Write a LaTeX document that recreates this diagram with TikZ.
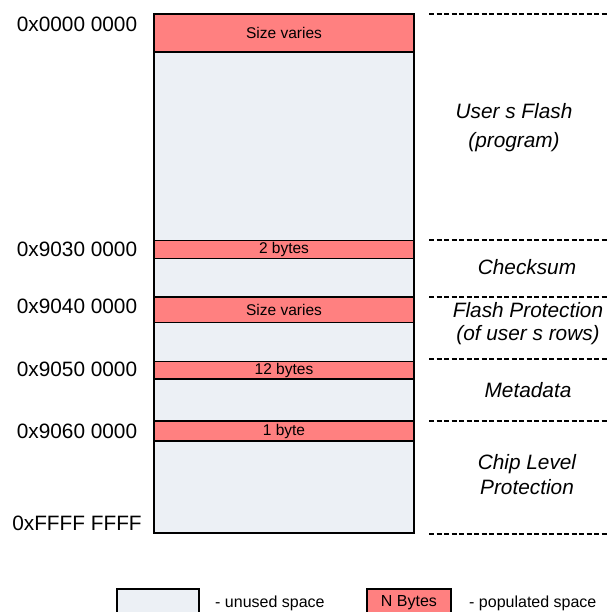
\documentclass[tikz,border=0pt]{standalone}
\usepackage{fontspec}
\setmainfont{Liberation Sans}
\definecolor{pinkfill}{RGB}{255,128,128}
\definecolor{unusedfill}{RGB}{236,240,245}
\begin{document}
\begin{tikzpicture}[x=1pt,y=-1pt,
  membox/.style={fill=unusedfill,minimum width=260pt,inner sep=0pt,outer sep=0pt},
  popbar/.style={draw=black,line width=1.6pt,fill=pinkfill,minimum width=260pt,inner sep=0pt,outer sep=0pt,font=\fontsize{15.5}{18}\selectfont},
  addr/.style={font=\fontsize{20.8}{25}\selectfont,inner sep=0pt},
  region/.style={align=center,inner sep=0pt},
  sep/.style={line width=1.7pt,dash pattern=on 5pt off 2.5pt},
  legbox/.style={draw=black,line width=2.5pt,minimum width=82pt,minimum height=30pt,anchor=north west,inner sep=0pt,outer sep=0pt},
  legtext/.style={font=\fontsize{16}{19}\selectfont,anchor=west,inner sep=0pt}]
\useasboundingbox (0,0) rectangle (608,612);

% memory column
\node[membox,minimum height=519pt] (mem) at (284,273.5) {};
\node[popbar,minimum height=38pt] (b1) at (284,33) {Size varies};
\node[popbar,minimum height=18pt] (b2) at (284,249.5) {2 bytes};
\node[popbar,minimum height=25.5pt] (b3) at (284,309.75) {Size varies};
\node[popbar,minimum height=17.5pt] (b4) at (284,370.25) {12 bytes};
\node[popbar,minimum height=20pt] (b5) at (284,431) {1 byte};
\draw[line width=2.5pt] (mem.north west) rectangle (mem.south east);

% addresses
\node[addr] (a0) at (77,24) {0x0000 0000};
\node[addr] (a1) at (77,249) {0x9030 0000};
\node[addr] (a2) at (77,306) {0x9040 0000};
\node[addr] (a3) at (77,369) {0x9050 0000};
\node[addr] (a4) at (77,431) {0x9060 0000};
\node[addr] (a5) at (77,523) {0xFFFF FFFF};

% separators
\coordinate (d0l) at (429,14.3);  \coordinate (d0r) at (608,14.3);
\coordinate (d1l) at (429,240);   \coordinate (d1r) at (608,240);
\coordinate (d2l) at (429,296.7); \coordinate (d2r) at (608,296.7);
\coordinate (d3l) at (429,359);   \coordinate (d3r) at (608,359);
\coordinate (d4l) at (429,420.7); \coordinate (d4r) at (608,420.7);
\coordinate (d5l) at (429,534);   \coordinate (d5r) at (608,534);
\foreach \i in {0,...,5} \draw[sep] (d\i l) -- (d\i r);

% region labels
\node[region,font=\fontsize{20.8}{29}\itshape\selectfont] (r1) at (514,128) {User s Flash\\(program)};
\node[region,font=\fontsize{20.8}{25}\itshape\selectfont] (r2) at (527,267) {Checksum};
\node[region,font=\fontsize{20.8}{23}\itshape\selectfont] (r3) at (528,324) {Flash Protection\\(of user s rows)};
\node[region,font=\fontsize{20.8}{25}\itshape\selectfont] (r4) at (528,390) {Metadata};
\node[region,font=\fontsize{20.8}{25}\itshape\selectfont] (r5) at (527,475) {Chip Level\\Protection};

% legend
\node[legbox,fill=unusedfill] (lu) at (117,589) {};
\node[legtext] (lut) at (215,603) {- unused space};
\node[legbox,fill=pinkfill,minimum width=84pt] (lp) at (367,589) {};
\node[font=\fontsize{16}{19}\selectfont,inner sep=0pt] (lpn) at (409,603) {N Bytes};
\node[legtext] (lpt) at (469,603) {- populated space};
\end{tikzpicture}
\end{document}
